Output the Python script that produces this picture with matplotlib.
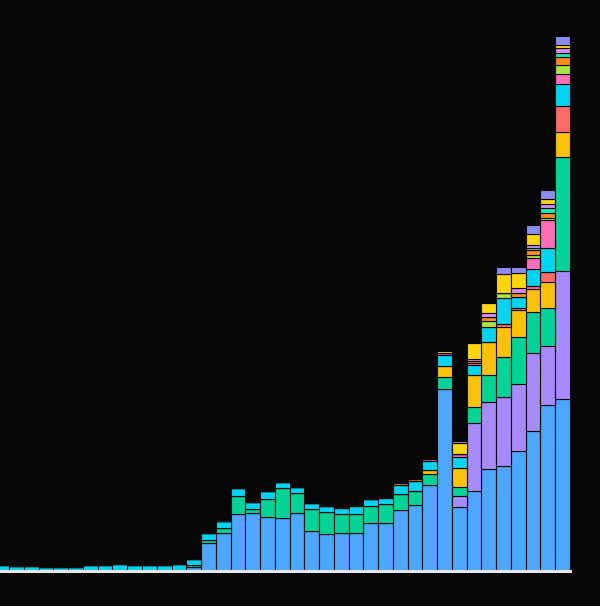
import matplotlib
matplotlib.use("Agg")
import matplotlib.pyplot as plt
import numpy as np

N = 39
blue   = [0]*13 + [4,28,38,57,58,54,53,58,40,37,38,38,48,48,61,66,86,182,64,80,102,105,120,140,166,172]
purple = [0]*31 + [11,68,67,69,67,78,59,128]
green  = [0]*12 + [1,2,3,5,18,4,18,30,20,22,22,19,19,17,19,16,14,11,12,9,16,27,40,47,41,38,114]
amber  = [0]*29 + [4,11,19,32,33,30,27,23,26,25]
red    = [0]*34 + [3,2,3,10,26]
cyan   = [6,5,5,4,4,4,6,6,7,6,6,6,6,6] + [7,7,8,7,8,6,6,6,6,6,8,7,6,9,10,9,11,11,10,15,26,11,17,24,22]
pink   = [0]*29 + [2,2,3,2,0,0,0,11,28,10]
lime   = [0]*33 + [6,5,0,3,2,9]
orange = [0]*23 + [1,1,0,1,2,2,0,0,0,2,4,0,4,5,5,8]
teal   = [0]*36 + [2,5,4]
lilac  = [0]*32 + [2,4,0,5,3,4,5]
yellow = [0]*29 + [1,2,11,16,10,19,15,11,5,3]
other  = [0]*25 + [1,0,0,0,0,0,2,0,0,7,6,9,9,9]

layers = [blue, purple, green, amber, red, cyan, pink, lime, orange, teal, lilac, yellow, other]
colors = ["#4da6ff", "#a78bfa", "#00d395", "#ffc107", "#ff6b6b", "#00d4f0", "#ff6eb4",
          "#a8e63a", "#ff8c1a", "#1de9b6", "#d98cf0", "#ffd60a", "#8c8cf0"]

fig = plt.figure(figsize=(6, 6.06), dpi=100, facecolor="#070707")
ax = fig.add_axes([0, 35/606, 570/600, 571/606])
ax.set_facecolor("#070707")
x = np.arange(N)
bottom = np.zeros(N)
for vals, c in zip(layers, colors):
    v = np.array(vals, dtype=float)
    ax.bar(x, v, bottom=bottom, width=1.0, color=c, edgecolor="#0a0a0a", linewidth=0.8)
    bottom += v
ax.axhline(0, color="#e6e6e6", lw=2.2, clip_on=False, zorder=5)
ax.set_xlim(-0.12, 38.5)
ax.set_ylim(0, 571)
ax.axis("off")
fig.savefig("out.png", facecolor=fig.get_facecolor())
